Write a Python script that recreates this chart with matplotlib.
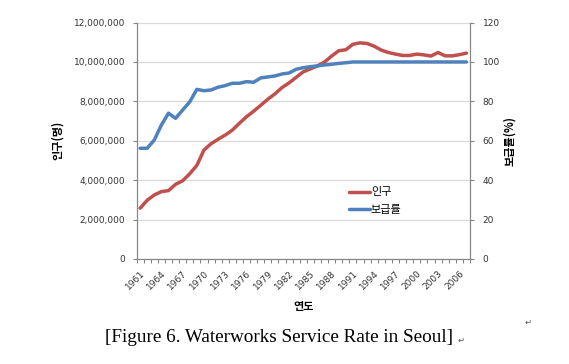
import numpy as np
import matplotlib.pyplot as plt
from matplotlib.ticker import FuncFormatter, MultipleLocator

plt.rcParams['font.family'] = ['Noto Sans CJK KR', 'DejaVu Sans']

years = list(range(1961, 2008))
population = [2580000, 2980000, 3250000, 3420000, 3470000, 3790000, 3970000, 4330000,
              4750000, 5530000, 5850000, 6080000, 6290000, 6540000, 6890000, 7220000,
              7500000, 7800000, 8110000, 8380000, 8700000, 8940000, 9220000, 9500000,
              9650000, 9800000, 10000000, 10300000, 10570000, 10620000, 10900000, 10970000,
              10940000, 10800000, 10600000, 10480000, 10400000, 10330000, 10330000, 10400000,
              10360000, 10300000, 10480000, 10310000, 10310000, 10370000, 10450000]
supply_rate = [56.2, 56.2, 60.4, 68.0, 74.0, 71.4, 75.6, 79.8, 86.1, 85.4, 85.8, 87.2,
               88.0, 89.2, 89.2, 90.0, 89.7, 91.9, 92.4, 92.9, 93.9, 94.4, 96.3, 97.1,
               97.6, 98.0, 98.5, 98.8, 99.3, 99.6, 100, 100, 100, 100, 100, 100,
               100, 100, 100, 100, 100, 100, 100, 100, 100, 100, 100]

red = '#C0504D'
blue = '#4F81BD'
gray = '#868686'
num_font = 'DejaVu Sans'

fig = plt.figure(figsize=(5.69, 3.64), dpi=100)
ax = fig.add_axes([0.240, 0.2885, 0.586, 0.6495])
ax2 = ax.twinx()

x = np.arange(len(years))
l1, = ax.plot(x, population, color=red, lw=2.5, solid_capstyle='round', zorder=3)
l2, = ax2.plot(x, supply_rate, color=blue, lw=2.5, solid_capstyle='round', zorder=3)

ax.set_xlim(-0.5, len(years) - 0.5)
ax.set_ylim(0, 12000000)
ax2.set_ylim(0, 120)
ax.yaxis.set_major_locator(MultipleLocator(2000000))
ax2.yaxis.set_major_locator(MultipleLocator(20))
ax.yaxis.set_major_formatter(FuncFormatter(lambda v, p: f'{int(v):,}'))

ax.grid(axis='y', color='#D9D9D9', lw=0.9, zorder=0)
ax.set_axisbelow(True)

for a in (ax, ax2):
    a.spines['top'].set_visible(False)
    for s in ('left', 'right', 'bottom'):
        a.spines[s].set_color(gray)
        a.spines[s].set_linewidth(0.8)

ax.set_xticks(x[::3])
ax.set_xticklabels([str(y) for y in years[::3]], rotation=45, ha='right',
                   rotation_mode='anchor', fontsize=6.5, family=num_font, color='#333333')
ax.set_xticks(np.arange(-0.5, len(years)), minor=True)
ax.tick_params(axis='x', which='major', length=0, pad=7)
ax.tick_params(axis='x', which='minor', length=3, color=gray, width=0.8)
ax.tick_params(axis='y', length=3, color=gray, width=0.8, pad=5)
ax2.tick_params(axis='y', length=3, color=gray, width=0.8, pad=6)
for t in ax.get_yticklabels() + ax2.get_yticklabels():
    t.set_fontsize(6.5)
    t.set_family(num_font)
    t.set_color('#333333')

ax.set_xlabel('연도', fontsize=8, fontweight='bold', va='center')
ax.xaxis.set_label_coords(0.5, -0.202)
ax.set_ylabel('인구(명)', fontsize=8, fontweight='bold', va='center')
ax.yaxis.set_label_coords(-0.236, 0.5)
ax2.set_ylabel('보급률(%)', fontsize=8, fontweight='bold', va='center', rotation=90)
ax2.yaxis.set_label_coords(1.12, 0.5)

fig.legend([l1, l2], ['인구', '보급률'], loc='center left', frameon=False,
           bbox_to_anchor=(0.595, 0.447), fontsize=8, handlelength=1.9,
           handletextpad=0.1, labelspacing=0.7)

fig.text(0.49, 0.074, '[Figure 6. Waterworks Service Rate in Seoul]', ha='center',
         va='center', family='Liberation Serif', fontsize=13.8)
fig.text(0.804, 0.066, '\u21b5', fontsize=6, color='#555555', family='DejaVu Sans',
         ha='left', va='center')
fig.text(0.922, 0.115, '\u21b5', fontsize=6, color='#555555', family='DejaVu Sans',
         ha='left', va='center')

fig.savefig('out.png', dpi=100)
